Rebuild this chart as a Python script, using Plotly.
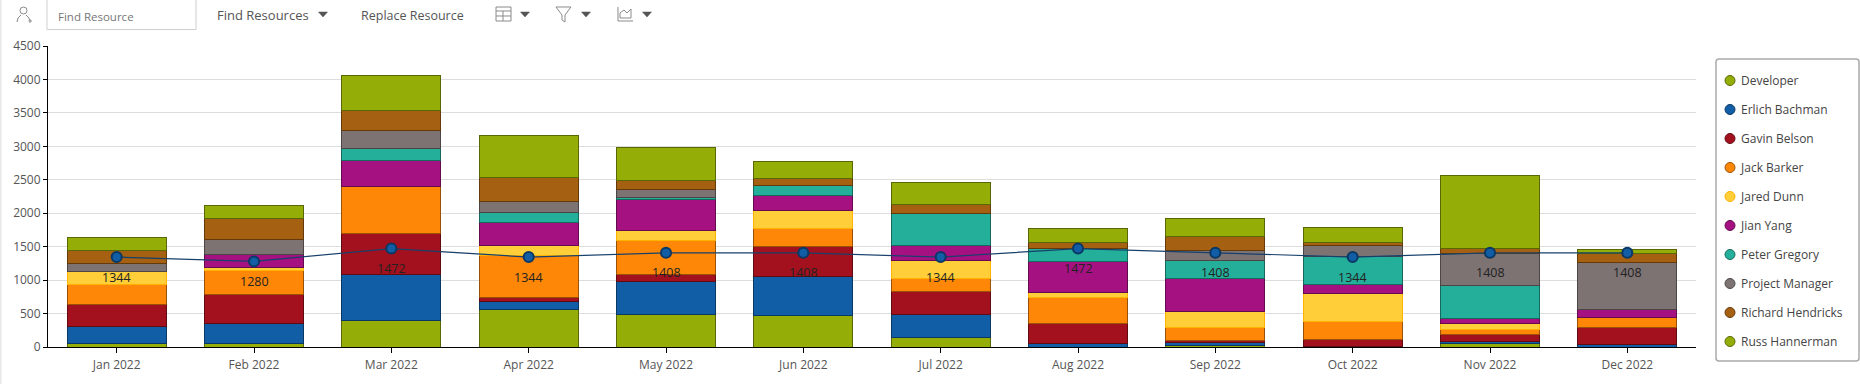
import plotly.graph_objects as go

months = ["Jan 2022","Feb 2022","Mar 2022","Apr 2022","May 2022","Jun 2022","Jul 2022","Aug 2022","Sep 2022","Oct 2022","Nov 2022","Dec 2022"]
developer = [45,45,403,568,493,478,149,0,20,10,45,0]
erlich = [269,309,688,119,493,583,344,45,40,0,40,30]
gavin = [328,438,612,50,105,448,344,299,30,95,109,269]
jack = [299,358,692,627,507,269,194,403,209,283,75,149]
jared = [184,35,0,150,140,269,269,75,239,419,80,0]
jian = [0,204,399,353,473,224,224,463,493,134,84,120]
peter = [0,0,179,150,30,149,478,194,269,413,493,0]
pm = [130,225,269,159,120,0,0,0,149,170,478,702]
richard = [194,313,299,364,134,105,134,90,209,45,75,134]
russ = [194,194,523,627,493,254,329,209,269,224,1091,60]
capacity = [1344,1280,1472,1344,1408,1408,1344,1472,1408,1344,1408,1408]
names = ["Developer","Erlich Bachman","Gavin Belson","Jack Barker","Jared Dunn","Jian Yang","Peter Gregory","Project Manager","Richard Hendricks","Russ Hannerman"]
series = [developer,erlich,gavin,jack,jared,jian,peter,pm,richard,russ]
colors = ["#94AD07","#115EA6","#A3111E","#FF8708","#FFCE39","#A61182","#24AF9A","#7D7373","#A66011","#94AD07"]
edges = ["#596804","#0A3864","#620A12","#995105","#FFB200","#640A4E","#15695C","#4B4545","#643A0A","#596804"]

FONT = "Open Sans"
L, R, T, B = 48, 1696, 46, 347
W, H = R - L, B - T
px = lambda x: (x - L) / W
py = lambda y: (B - y) / H

fig = go.Figure()
for n, s, c, e in zip(names, series, colors, edges):
    fig.add_bar(x=months, y=s, name=n, marker=dict(color=c, line=dict(color=e, width=1)),
                showlegend=False, legendgroup=n, hoverinfo="y+name")
fig.add_scatter(x=months, y=capacity, mode="lines+markers", showlegend=False,
                line=dict(color="#17406B", width=1.2),
                marker=dict(color="#115EA6", size=10, line=dict(color="#0A3864", width=2)))
for n, c, e in zip(names, colors, edges):
    fig.add_scatter(x=[None], y=[None], mode="markers", name=n, legendgroup=n,
                    marker=dict(symbol="circle", size=10, color=c, line=dict(color=e, width=1)))

annots = [dict(x=m, y=v, xref="x", yref="y", text=str(v), showarrow=False, yshift=-20,
               font=dict(family=FONT, size=12.5, color="#222222")) for m, v in zip(months, capacity)]

def label(x, y, t, size=12, color="#666666"):
    annots.append(dict(x=px(x), y=py(y), xref="paper", yref="paper", text=t, showarrow=False,
                       xanchor="left", yanchor="middle", font=dict(family=FONT, size=size, color=color)))

label(56, 16, "Find Resource", 11.5, "#777777")
label(215, 15, "Find Resources", 13, "#555555")
label(359, 15, "Replace Resource", 12.5, "#555555")

shapes = []
def path(d_pts, close=False, fill=None, color="#8a8a8a", width=1):
    d = "M " + " L ".join(f"{px(x):.5f},{py(y):.5f}" for x, y in d_pts) + (" Z" if close else "")
    shapes.append(dict(type="path", path=d, xref="paper", yref="paper",
                       fillcolor=fill if fill else "rgba(0,0,0,0)", line=dict(color=color, width=width)))

def rect(x0, y0, x1, y1, color="#8a8a8a", fill=None, width=1):
    shapes.append(dict(type="rect", xref="paper", yref="paper", x0=px(x0), x1=px(x1), y0=py(y0), y1=py(y1),
                       line=dict(color=color, width=width), fillcolor=fill if fill else "rgba(0,0,0,0)"))

def circle(x0, y0, x1, y1, color="#8a8a8a"):
    shapes.append(dict(type="circle", xref="paper", yref="paper", x0=px(x0), x1=px(x1), y0=py(y0), y1=py(y1),
                       line=dict(color=color, width=1)))

for tx in (323, 525, 586, 647):
    path([(tx - 4.5, 12), (tx + 4.5, 12), (tx, 17)], True, "#555555", "#555555", 0.5)

# left strip
path([(0.5, 0), (0.5, 384)], color="#E8E8E8", width=2)
# search box
path([(47, -2), (47, 29.5), (196, 29.5), (196, -2)], color="#cfcfcf")
# person icon
circle(20, 7, 27, 14)
path([(17, 22), (18, 18), (21, 15)])
path([(26, 15), (29, 18), (29.5, 20)])
path([(28.5, 21), (32, 21)]); path([(30, 19), (30, 23)])
# table icon
rect(496, 7, 511, 21)
path([(496, 11), (511, 11)]); path([(496, 16), (511, 16)]); path([(503, 11), (503, 21)])
# filter icon
path([(556, 7), (571, 7), (565, 15), (565, 22), (562, 20), (562, 15)], True)
# chart icon
path([(618, 7), (618, 21), (633, 21)])
path([(620, 18), (620, 13), (624, 10), (627, 13), (631, 9), (631, 18)], True)

# legend frame
x0, x1, y0, y1, r = 1716, 1859, 59, 361, 3
d = (f"M {px(x0+r)},{py(y0)} L {px(x1-r)},{py(y0)} Q {px(x1)},{py(y0)} {px(x1)},{py(y0+r)} "
     f"L {px(x1)},{py(y1-r)} Q {px(x1)},{py(y1)} {px(x1-r)},{py(y1)} L {px(x0+r)},{py(y1)} "
     f"Q {px(x0)},{py(y1)} {px(x0)},{py(y1-r)} L {px(x0)},{py(y0+r)} Q {px(x0)},{py(y0)} {px(x0+r)},{py(y0)} Z")
shapes.append(dict(type="path", path=d, xref="paper", yref="paper", line=dict(color="#AAAAAA", width=1.5)))

fig.update_layout(
    width=1860, height=384, barmode="stack", bargap=0.28,
    margin=dict(l=L, r=1860 - R, t=T, b=384 - B, pad=0, autoexpand=False),
    paper_bgcolor="white", plot_bgcolor="white",
    font=dict(family=FONT, size=12, color="#555555"),
    shapes=shapes, annotations=annots,
    legend=dict(x=px(1701), y=py(66), xanchor="left", yanchor="top", traceorder="grouped",
                tracegroupgap=10, itemclick=False, itemdoubleclick=False,
                font=dict(family=FONT, size=12, color="#444444"), bgcolor="rgba(0,0,0,0)"),
    xaxis=dict(type="category", range=[-0.5, 11.5], showline=True, linecolor="#000000", linewidth=1, ticks="outside",
               ticklen=5, tickcolor="#000000", showgrid=False, ticklabelstandoff=2, tickfont=dict(size=12, color="#555555")),
    yaxis=dict(range=[0, 4500], dtick=500, showline=True, linecolor="#000000", linewidth=1, ticks="outside",
               ticklen=4, tickcolor="#000000", gridcolor="#DDDDDD", zeroline=False,
               tickfont=dict(size=12, color="#555555")),
)
fig.write_html("out.html", config={"displayModeBar": False},
               post_script="document.body.style.margin='0';document.body.style.overflow='hidden';"
                           "document.querySelectorAll('.legendpoints').forEach(function(g){g.setAttribute('transform','translate(9,0)');});")
